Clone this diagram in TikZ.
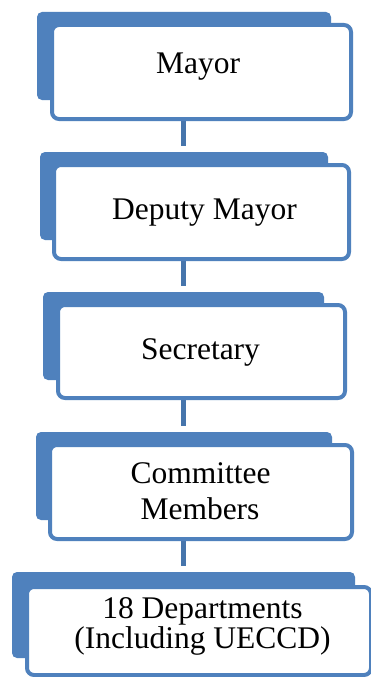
\documentclass[tikz,border=0pt]{standalone}
\usepackage{fontspec}
\setmainfont{Liberation Serif}
\usetikzlibrary{calc}
\definecolor{boxblue}{HTML}{4F81BD}
\definecolor{connblue}{HTML}{4675AC}
\begin{document}
\begin{tikzpicture}[x=1pt,y=-1pt,
  back/.style={fill=boxblue, rounded corners=5pt, inner sep=0pt, outer sep=0pt},
  front/.style={draw=boxblue, fill=white, line width=4pt, rounded corners=7pt, inner sep=0pt, outer sep=0pt},
  conn/.style={draw=connblue, line width=5pt},
  lbl/.style={font=\fontsize{31.5}{36}\selectfont, anchor=base, inner sep=0pt}]
\clip (0,0) rectangle (371,677);
\fill[white] (0,0) rectangle (371,677);
\coordinate (cx) at (183,0);
% back boxes
\node[back, minimum width=294pt, minimum height=88pt] (b1) at (184,56) {};
\node[back, minimum width=288pt, minimum height=88pt] (b2) at (184,196) {};
\node[back, minimum width=281pt, minimum height=88pt] (b3) at (183.5,336) {};
\node[back, minimum width=296pt, minimum height=88pt] (b4) at (184,476) {};
\node[back, minimum width=343pt, minimum height=86pt] (b5) at (183.5,615) {};
% connectors
\draw[conn] (b1.south -| cx) ++(0,21) coordinate (s1) -- ($(b2.north -| cx)+(0,-6)$) coordinate (e1);
\draw[conn] (b2.south -| cx) ++(0,21) coordinate (s2) -- ($(b3.north -| cx)+(0,-6)$) coordinate (e2);
\draw[conn] (b3.south -| cx) ++(0,20) coordinate (s3) -- ($(b4.north -| cx)+(0,-6)$) coordinate (e3);
\draw[conn] (b4.south -| cx) ++(0,21) coordinate (s4) -- ($(b5.north -| cx)+(0,-6)$) coordinate (e4);
% front boxes
\node[front, minimum width=299pt, minimum height=94pt] (f1) at (201.5,72) {};
\node[front, minimum width=295pt, minimum height=94pt] (f2) at (201.5,212) {};
\node[front, minimum width=287pt, minimum height=93pt] (f3) at (201.5,351.5) {};
\node[front, minimum width=302pt, minimum height=94pt] (f4) at (201,492) {};
\node[front, minimum width=344pt, minimum height=88pt] (f5) at (199,631) {};
% texts
\node[lbl] (t1) at (198,74) {Mayor};
\node[lbl] (t2) at (204.5,219.3) {Deputy Mayor};
\node[lbl] (t3) at (200.5,359) {Secretary};
\node[lbl] (t4a) at (200.5,483) {Committee};
\node[lbl] (t4b) at (200,519) {Members};
\node[lbl] (t5a) at (202.5,618) {18 Departments};
\node[lbl] (t5b) at (202.5,648) {(Including UECCD)};
\end{tikzpicture}
\end{document}
